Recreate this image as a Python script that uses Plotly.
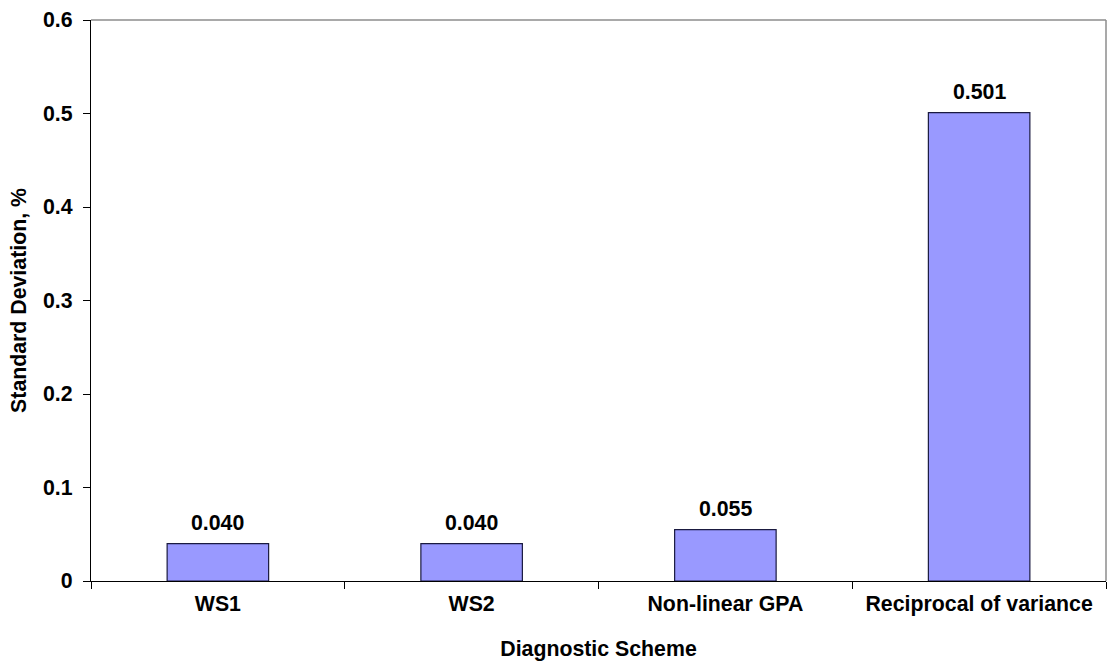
import plotly.graph_objects as go

# Standard deviation of each diagnostic scheme
schemes = ["WS1", "WS2", "Non-linear GPA", "Reciprocal of variance"]
std_dev = [0.040, 0.040, 0.055, 0.501]
y_ticks = [0, 0.1, 0.2, 0.3, 0.4, 0.5, 0.6]

FONT = "Liberation Sans, Arial, sans-serif"
SIZE = 21.3

fig = go.Figure(
    go.Bar(
        x=schemes,
        y=std_dev,
        marker=dict(color="#9999FF", line=dict(color="#1a1a40", width=1.2)),
        hoverinfo="x+y",
    )
)

# Value labels above each bar
for s, v in zip(schemes, std_dev):
    fig.add_annotation(
        x=s, y=v, text=f"<b>{v:.3f}</b>", showarrow=False,
        yanchor="bottom", yshift=7,
        font=dict(family=FONT, size=SIZE, color="black"),
    )

# Light grey frame on the top and right of the plot area
fig.add_shape(type="line", xref="paper", yref="paper", x0=0, x1=1, y0=1, y1=1,
              line=dict(color="#8c8c8c", width=1.5))
fig.add_shape(type="line", xref="paper", yref="paper", x0=1, x1=1, y0=0, y1=1,
              line=dict(color="#8c8c8c", width=1.5))

fig.update_layout(
    width=1107, height=664,
    margin=dict(l=91, r=1, t=20, b=83),
    paper_bgcolor="white", plot_bgcolor="white",
    bargap=0.6,
    showlegend=False,
    font=dict(family=FONT, size=SIZE, color="black"),
    xaxis=dict(
        type="category",
        showline=True, linecolor="black", linewidth=1.2,
        ticks="outside", ticklen=7, tickcolor="black", tickson="boundaries",
        showgrid=False,
        tickfont=dict(family=FONT, size=SIZE, color="black"),
        ticklabelstandoff=3,
        title=dict(text="<b>Diagnostic Scheme</b>", standoff=26,
                   font=dict(family=FONT, size=SIZE, color="black")),
    ),
    yaxis=dict(
        range=[0, 0.6], tickvals=y_ticks,
        ticktext=[f"<b>{t:g}</b>" for t in y_ticks],
        showline=True, linecolor="black", linewidth=1.2,
        ticks="outside", ticklen=7, tickcolor="black",
        showgrid=False, zeroline=False,
        tickfont=dict(family=FONT, size=SIZE, color="black"),
        ticklabelstandoff=6,
        title=dict(text="<b>Standard Deviation, %</b>", standoff=10,
                   font=dict(family=FONT, size=SIZE, color="black")),
    ),
)

fig.update_xaxes(ticktext=[f"<b>{s}</b>" for s in schemes], tickvals=schemes)

fig.write_html("out.html")
